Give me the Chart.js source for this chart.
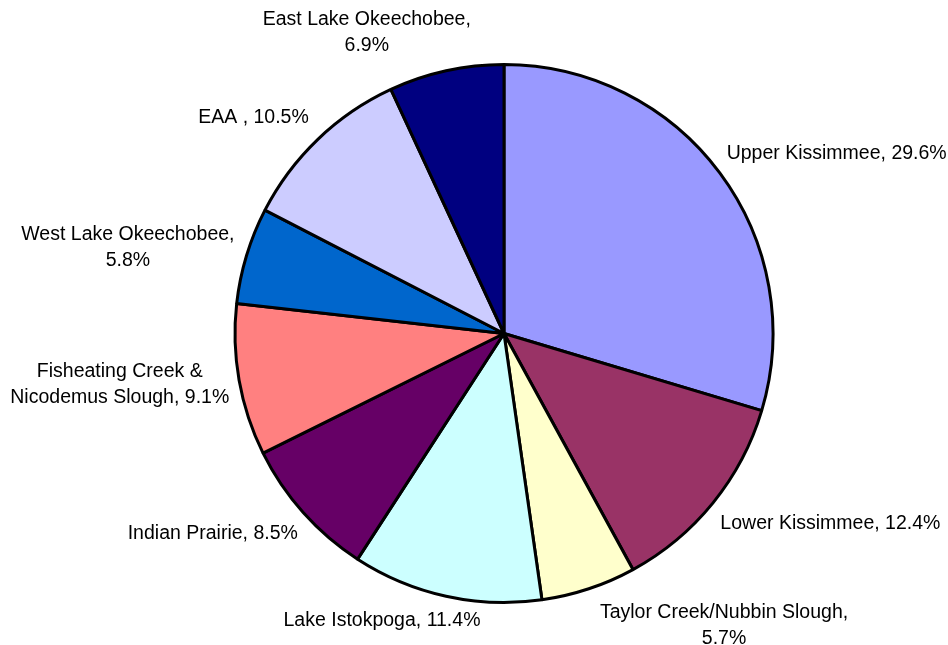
<!DOCTYPE html>
<html>
<head>
<meta charset="utf-8">
<script src="https://cdn.jsdelivr.net/npm/chart.js@4/dist/chart.umd.min.js"></script>
<style>
  html, body { margin: 0; padding: 0; background: #ffffff; }
  #wrap { width: 948px; height: 645px; position: relative; }
</style>
</head>
<body>
<div id="wrap"><canvas id="pie" width="948" height="645"></canvas></div>
<script>
// Share of total by basin (percent), clockwise from 12 o'clock
const categories = [
  'Upper Kissimmee',
  'Lower Kissimmee',
  'Taylor Creek/Nubbin Slough',
  'Lake Istokpoga',
  'Indian Prairie',
  'Fisheating Creek & Nicodemus Slough',
  'West Lake Okeechobee',
  'EAA ',
  'East Lake Okeechobee'
];
const shares = [29.6, 12.4, 5.7, 11.4, 8.5, 9.1, 5.8, 10.5, 6.9];
const sliceColors = [
  '#9999FF', '#993366', '#FFFFCC', '#CCFFFF', '#660066',
  '#FF8080', '#0066CC', '#CCCCFF', '#000080'
];

const LABEL_FONT = '19.5px "Liberation Sans", Arial, sans-serif';
const LINE_H = 26;
const WRAP_W = 252;
const GAP = 32;

function wrapText(ctx, text, maxW) {
  const words = text.split(' ');
  const lines = [];
  let cur = '';
  for (const w of words) {
    const trial = cur ? cur + ' ' + w : w;
    if (cur && ctx.measureText(trial).width > maxW) {
      lines.push(cur);
      cur = w;
    } else {
      cur = trial;
    }
  }
  if (cur) lines.push(cur);
  return lines;
}

// Draws "name, value%" outside each slice: the text box is pushed out along the
// slice's mid angle, then shifted by a small per-label nudge to avoid crowding.
const outsideLabels = {
  id: 'outsideLabels',
  afterDatasetsDraw(chart, args, opts) {
    const ctx = chart.ctx;
    const meta = chart.getDatasetMeta(0);
    const values = chart.data.datasets[0].data;
    const nudges = opts.nudges || [];
    ctx.save();
    ctx.font = LABEL_FONT;
    ctx.fillStyle = '#000000';
    ctx.textAlign = 'center';
    ctx.textBaseline = 'middle';
    meta.data.forEach((arc, i) => {
      const p = arc.getProps(['x', 'y', 'startAngle', 'endAngle', 'outerRadius'], true);
      const mid = (p.startAngle + p.endAngle) / 2;
      const c = Math.cos(mid), s = Math.sin(mid);
      const text = chart.data.labels[i] + ', ' + values[i].toFixed(1) + '%';
      const lines = wrapText(ctx, text, WRAP_W);
      const w = Math.max(...lines.map(l => ctx.measureText(l).width));
      const h = (lines.length - 1) * LINE_H + 20;
      const [nx, ny] = nudges[i] || [0, 0];
      const ax = p.x + (p.outerRadius + GAP) * c;
      const ay = p.y + (p.outerRadius + GAP) * s;
      const cx = ax + c * w / 2 + nx;
      const cy = ay + s * h / 2 + ny;
      lines.forEach((l, k) => {
        ctx.fillText(l, cx, cy - (lines.length - 1) * LINE_H / 2 + k * LINE_H);
      });
    });
    ctx.restore();
  }
};

new Chart(document.getElementById('pie'), {
  type: 'pie',
  data: {
    labels: categories,
    datasets: [{
      data: shares,
      backgroundColor: sliceColors,
      borderColor: '#000000',
      borderWidth: 3,
      borderAlign: 'center'
    }]
  },
  options: {
    responsive: false,
    animation: false,
    layout: { padding: { left: 60, right: 0, top: 63, bottom: 41 } },
    plugins: {
      legend: { display: false },
      tooltip: { enabled: false },
      outsideLabels: {
        nudges: [
          [3, 6], [7, -6], [86, -15], [-36, -17], [-3, -7],
          [20, -5], [14, 8], [-4, 9], [-50, 16]
        ]
      }
    }
  },
  plugins: [outsideLabels]
});
</script>
</body>
</html>
